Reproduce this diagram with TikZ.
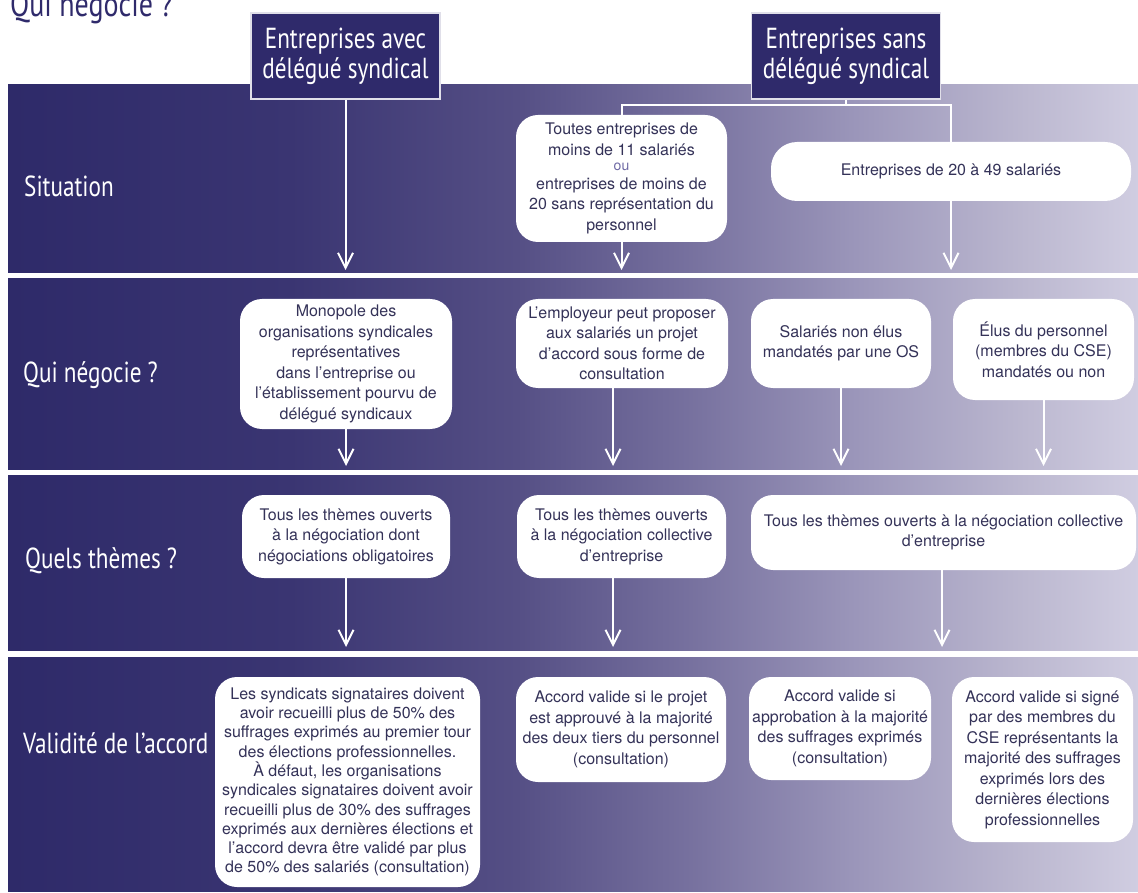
\documentclass[tikz,border=0pt]{standalone}
\usepackage{fontspec}
\setmainfont{TeX Gyre Heros}
\newfontfamily\condfont[FakeStretch=0.8]{PT Sans}
\usetikzlibrary{arrows.meta}

\definecolor{navy}{RGB}{47,42,107}
\definecolor{boxtext}{RGB}{52,50,88}
\definecolor{oucol}{RGB}{110,105,165}
\definecolor{b0}{RGB}{46,42,105}
\definecolor{b1}{RGB}{58,53,114}
\definecolor{b2}{RGB}{85,79,133}
\definecolor{b3}{RGB}{118,112,158}
\definecolor{b4}{RGB}{155,150,186}
\definecolor{b5}{RGB}{188,184,208}
\definecolor{b6}{RGB}{208,205,225}

\pgfdeclarehorizontalshading{bandshade}{100bp}{color(0bp)=(b0); color(25bp)=(b0); color(37.5bp)=(b1); color(47.5bp)=(b2); color(55bp)=(b3); color(62.5bp)=(b4); color(70bp)=(b5); color(75bp)=(b6); color(100bp)=(b6)}

\tikzset{
  band/.style={shading=bandshade},
  head/.style={fill=navy, draw=white!85!navy, line width=1.2pt, text=white,
    font=\condfont\fontsize{29}{30}\selectfont, align=center, inner sep=0pt,
    minimum width=189pt, minimum height=86pt},
  lab/.style={text=white, font=\condfont\fontsize{29}{30}\selectfont,
    anchor=base west, inner sep=0pt},
  box/.style={fill=white, rounded corners=22pt, text=boxtext,
    font=\fontsize{16}{20.5}\selectfont, align=center, inner sep=0pt},
  conn/.style={draw=white, line width=2pt},
  arr/.style={draw=white, line width=2pt,
    -{Straight Barb[length=15pt,width=15pt,line width=2pt]}},
}

\begin{document}
\begin{tikzpicture}[x=1pt,y=-1pt]
\useasboundingbox (0,0) rectangle (1138,893);

% horizontal bands
\shade[band] (8,85) rectangle (1138,273);
\shade[band] (8,279) rectangle (1138,469);
\shade[band] (8,475) rectangle (1138,650);
\shade[band] (8,657) rectangle (1138,891);

% title
\node[anchor=base west, inner sep=0pt, text=navy,
  font=\condfont\fontsize{35}{36}\selectfont] (title) at (10,17) {Qui négocie ?};

% row labels
\node[lab] (l1) at (24,197) {Situation};
\node[lab] (l2) at (23,382) {Qui négocie ?};
\node[lab] (l3) at (25,568) {Quels thèmes ?};
\node[lab] (l4) at (23,753) {Validité de l’accord};

% column headers
\node[head] (h1) at (345.5,56) {Entreprises avec\\délégué syndical};
\node[head] (h2) at (846,56) {Entreprises sans\\délégué syndical};

% situation
\node[box, minimum width=211pt, minimum height=127pt] (s1) at (621.5,178.5)
  {Toutes entreprises de\\moins de 11 salariés\\[-5pt]
   {\color{oucol}\fontsize{14}{16}\selectfont ou}\\[-2pt]
   entreprises de moins de\\20 sans représentation du\\personnel};
\node[box, rounded corners=26pt, minimum width=360pt, minimum height=59pt] (s2) at (951,171.5)
  {Entreprises de 20 à 49 salariés};

% who negotiates
\node[box, minimum width=212pt, minimum height=130pt] (q1) at (346,364)
  {Monopole des\\organisations syndicales\\représentatives\\dans l’entreprise ou\\l’établissement pourvu de\\délégué syndicaux};
\node[box, minimum width=212pt, minimum height=89pt] (q2) at (622,343.5)
  {L’employeur peut proposer\\aux salariés un projet\\d’accord sous forme de\\consultation};
\node[box, minimum width=180pt, minimum height=89pt] (q3) at (841,343.5)
  {Salariés non élus\\mandatés par une OS};
\node[box, minimum width=181pt, minimum height=101pt] (q4) at (1043.5,349.5)
  {Élus du personnel\\(membres du CSE)\\mandatés ou non};

% themes
\node[box, minimum width=208pt, minimum height=83pt] (t1) at (346,536.5)
  {Tous les thèmes ouverts\\à la négociation dont\\négociations obligatoires};
\node[box, minimum width=209pt, minimum height=83pt] (t2) at (621.5,536.5)
  {Tous les thèmes ouverts\\à la négociation collective\\d’entreprise};
\node[box, minimum width=385pt, minimum height=75pt] (t3) at (943.5,532.5)
  {Tous les thèmes ouverts à la négociation collective\\d’entreprise};

% validity
\node[box, font=\fontsize{16}{19.3}\selectfont, minimum width=265pt, minimum height=210pt] (v1) at (347.5,782)
  {Les syndicats signataires doivent\\avoir recueilli plus de 50\% des\\suffrages exprimés au premier tour\\des élections professionnelles.\\À défaut, les organisations\\syndicales signataires doivent avoir\\recueilli plus de 30\% des suffrages\\exprimés aux dernières élections et\\l’accord devra être validé par plus\\de 50\% des salariés (consultation)};
\node[box, minimum width=210pt, minimum height=105pt] (v2) at (621,729.5)
  {Accord valide si le projet\\est approuvé à la majorité\\des deux tiers du personnel\\(consultation)};
\node[box, minimum width=182pt, minimum height=103pt] (v3) at (840,728.5)
  {Accord valide si\\approbation à la majorité\\des suffrages exprimés\\(consultation)};
\node[box, minimum width=181pt, minimum height=165pt] (v4) at (1042.5,759.5)
  {Accord valide si signé\\par des membres du\\CSE représentants la\\majorité des suffrages\\exprimés lors des\\dernières élections\\professionnelles};

% arrow ends at the foot of each band
\coordinate (e1a) at (345.5,270);
\coordinate (e1b) at (621.5,270);
\coordinate (e1c) at (951,270);
\coordinate (e2a) at (346,466);
\coordinate (e2b) at (613,466);
\coordinate (e2c) at (841,466);
\coordinate (e2d) at (1043.5,466);
\coordinate (e3a) at (346,647);
\coordinate (e3b) at (613,647);
\coordinate (e3c) at (942,647);
\coordinate (j2) at (846,105);

% connectors
\draw[arr] (h1.south) -- (e1a);
\draw[conn] (h2.south) -- (j2);
\draw[conn] (s1.north) |- (j2) -| (s2.north);
\draw[arr] (s1.south) -- (e1b);
\draw[arr] (s2.south) -- (e1c);
\draw[arr] (q1.south) -- (e2a);
\draw[arr] (q2.south -| e2b) -- (e2b);
\draw[arr] (q3.south) -- (e2c);
\draw[arr] (q4.south) -- (e2d);
\draw[arr] (t1.south) -- (e3a);
\draw[arr] (t2.south -| e3b) -- (e3b);
\draw[arr] (t3.south -| e3c) -- (e3c);
\end{tikzpicture}
\end{document}
